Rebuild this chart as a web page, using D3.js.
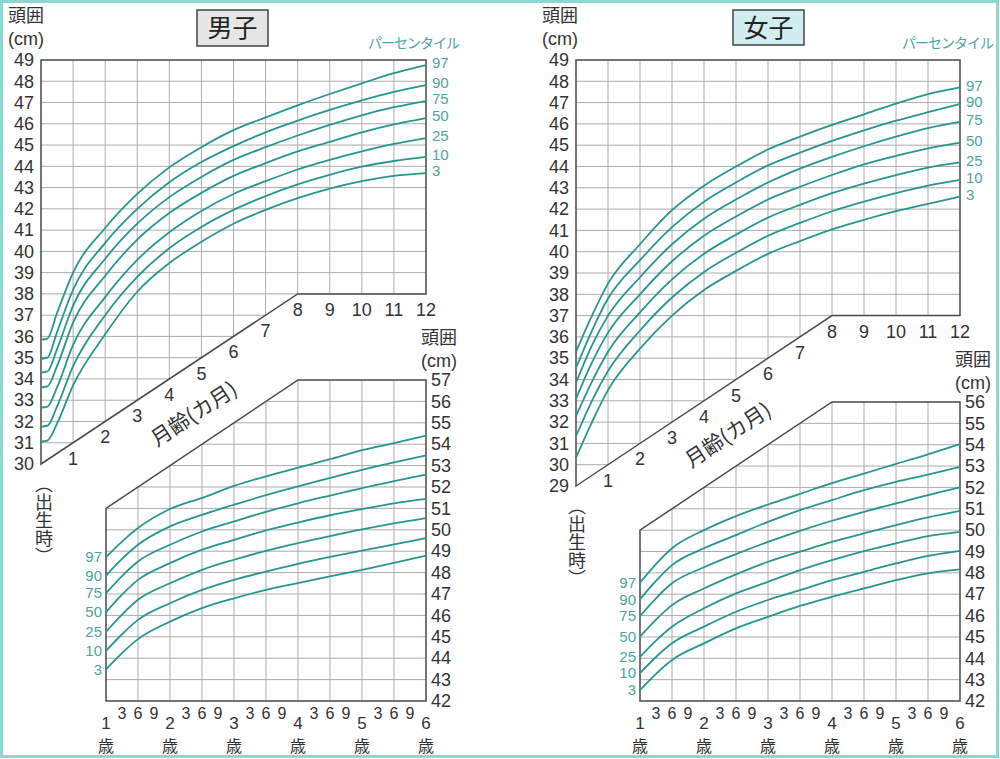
<!DOCTYPE html>
<html>
<head>
<meta charset="utf-8">
<script src="https://cdn.jsdelivr.net/npm/d3@7"></script>
<style>
  body { margin: 0; background: #fff; }
  svg { display: block; }
</style>
</head>
<body>
<svg id="chart" width="1000" height="759"></svg>
<script>
// パーセンタイル (上から順)
const pctLabels = ["97", "90", "75", "50", "25", "10", "3"];

// 男子 乳児 (月齢 0-12カ月, 頭囲 cm)
const boyMonths = [0, 0.2, 0.5, 1, 2, 3, 4, 5, 6, 7, 8, 9, 10, 11, 12];
const boyInfant = [
  [35.85, 35.9, 37.1, 39.0, 41.1, 42.7, 43.95, 44.9, 45.7, 46.3, 46.87, 47.4, 47.9, 48.38, 48.76],
  [34.95, 35.0, 36.2, 38.2, 40.4, 42.0, 43.25, 44.2, 44.95, 45.6, 46.15, 46.65, 47.1, 47.5, 47.82],
  [34.3, 34.35, 35.4, 37.45, 39.65, 41.3, 42.55, 43.5, 44.3, 44.9, 45.45, 45.95, 46.4, 46.78, 47.07],
  [33.6, 33.65, 34.6, 36.65, 38.85, 40.55, 41.8, 42.75, 43.55, 44.15, 44.7, 45.15, 45.6, 45.97, 46.27],
  [32.65, 32.7, 33.6, 35.6, 37.85, 39.6, 40.9, 41.9, 42.7, 43.3, 43.85, 44.3, 44.7, 45.05, 45.33],
  [31.75, 31.8, 32.7, 34.6, 37.0, 38.8, 40.15, 41.15, 41.95, 42.6, 43.15, 43.6, 43.98, 44.25, 44.44],
  [31.05, 31.1, 31.9, 33.7, 36.1, 38.1, 39.45, 40.45, 41.3, 41.95, 42.5, 42.95, 43.3, 43.55, 43.68]
];

// 女子 乳児
const girlMonths = [0, 0.5, 1, 2, 3, 4, 5, 6, 7, 8, 9, 10, 11, 12];
const girlInfant = [
  [35.3, 37.0, 38.5, 40.35, 41.95, 43.1, 44.0, 44.8, 45.4, 45.95, 46.45, 46.95, 47.4, 47.72],
  [34.54, 36.3, 37.8, 39.6, 41.15, 42.35, 43.25, 44.05, 44.65, 45.2, 45.7, 46.15, 46.55, 46.94],
  [33.84, 35.6, 37.0, 38.8, 40.35, 41.55, 42.45, 43.25, 43.9, 44.45, 44.95, 45.4, 45.8, 46.09],
  [33.09, 34.8, 36.2, 38.0, 39.55, 40.75, 41.65, 42.45, 43.05, 43.6, 44.1, 44.5, 44.85, 45.12],
  [32.28, 33.9, 35.3, 37.15, 38.7, 39.9, 40.8, 41.6, 42.2, 42.75, 43.2, 43.6, 43.95, 44.19],
  [31.34, 33.0, 34.4, 36.3, 37.85, 39.05, 39.95, 40.75, 41.35, 41.9, 42.35, 42.75, 43.1, 43.37],
  [30.33, 32.0, 33.5, 35.45, 37.0, 38.2, 39.1, 39.9, 40.5, 41.05, 41.5, 41.9, 42.25, 42.59]
];

// 幼児 (1-6歳)
const childYears = [1, 1.25, 1.5, 2, 2.5, 3, 3.5, 4, 4.5, 5, 5.5, 6];
const boyChild = [
  [48.72, 49.45, 50.08, 50.97, 51.49, 52.05, 52.5, 52.9, 53.3, 53.72, 54.05, 54.4],
  [47.86, 48.64, 49.3, 50.16, 50.7, 51.17, 51.62, 52.03, 52.42, 52.8, 53.15, 53.48],
  [47.04, 47.84, 48.52, 49.3, 49.92, 50.39, 50.84, 51.24, 51.6, 51.95, 52.27, 52.58],
  [46.15, 46.97, 47.66, 48.44, 49.07, 49.53, 49.97, 50.34, 50.68, 50.97, 51.24, 51.45],
  [45.24, 46.04, 46.73, 47.5, 48.13, 48.6, 49.02, 49.38, 49.71, 50.02, 50.3, 50.55],
  [44.34, 45.12, 45.79, 46.57, 47.19, 47.66, 48.05, 48.41, 48.73, 49.03, 49.32, 49.61],
  [43.48, 44.24, 44.89, 45.71, 46.34, 46.8, 47.19, 47.51, 47.82, 48.13, 48.45, 48.79]
];
const girlChild = [
  [47.54, 48.41, 49.15, 50.0, 50.66, 51.2, 51.7, 52.2, 52.65, 53.1, 53.55, 54.03],
  [46.76, 47.62, 48.36, 49.15, 49.77, 50.39, 50.94, 51.41, 51.87, 52.26, 52.6, 52.96],
  [45.98, 46.81, 47.51, 48.26, 48.88, 49.45, 49.97, 50.44, 50.86, 51.25, 51.64, 52.0],
  [45.01, 45.81, 46.49, 47.27, 47.93, 48.52, 48.99, 49.45, 49.85, 50.24, 50.6, 50.9],
  [44.07, 44.83, 45.48, 46.34, 47.04, 47.58, 48.13, 48.6, 49.02, 49.38, 49.72, 49.92],
  [43.3, 44.06, 44.7, 45.48, 46.18, 46.73, 47.19, 47.66, 48.05, 48.44, 48.79, 49.03],
  [42.51, 43.27, 43.92, 44.7, 45.4, 45.94, 46.45, 46.88, 47.27, 47.66, 47.98, 48.16]
];

const quarterLabels = ["3", "6", "9"];

const gridColor = "#acacac";
const frameColor = "#4a4a4a";
const curveColor = "#27968f";
const pctColor = "#4aa6a0";
const textColor = "#333";
const numFont = "'Liberation Sans', Arial, sans-serif";
const jpFont = "'Noto Sans CJK JP', sans-serif";

const svg = d3.select("#chart");

// 外枠
svg.append("rect")
  .attr("x", 1.5).attr("y", 1.5)
  .attr("width", 996).attr("height", 755)
  .attr("fill", "#fff")
  .attr("stroke", "#8ad8d0")
  .attr("stroke-width", 3);

function drawGrid(id, xs, ys, outline, xTicks, yTicks) {
  const pts = outline.map(p => [xs(p[0]), ys(p[1])].join(",")).join(" ");
  svg.append("clipPath").attr("id", id).append("polygon").attr("points", pts);
  const g = svg.append("g").attr("clip-path", `url(#${id})`);
  g.selectAll("line.v").data(xTicks).join("line").attr("class", "v")
    .attr("x1", d => xs(d)).attr("x2", d => xs(d))
    .attr("y1", ys.range()[0]).attr("y2", ys.range()[1])
    .attr("stroke", gridColor).attr("stroke-width", 1);
  g.selectAll("line.h").data(yTicks).join("line").attr("class", "h")
    .attr("x1", xs.range()[0]).attr("x2", xs.range()[1])
    .attr("y1", d => ys(d)).attr("y2", d => ys(d))
    .attr("stroke", gridColor).attr("stroke-width", 1);
  svg.append("polygon").attr("points", pts)
    .attr("fill", "none").attr("stroke", frameColor).attr("stroke-width", 1.5);
}

function drawCurves(xs, ys, xsData, rows, curve) {
  const line = d3.line()
    .x(d => xs(d[0]))
    .y(d => ys(d[1]))
    .curve(curve);
  rows.forEach(row => {
    svg.append("path")
      .attr("d", line(xsData.map((x, i) => [x, row[i]])))
      .attr("fill", "none")
      .attr("stroke", curveColor)
      .attr("stroke-width", 1.8);
  });
}

function styleAxis(a, size) {
  a.select(".domain").remove();
  a.attr("font-family", numFont).attr("font-size", size).attr("color", textColor);
}

function jpText(x, y, str, size, anchor, fill) {
  return svg.append("text")
    .attr("x", x).attr("y", y)
    .attr("font-family", jpFont)
    .attr("font-size", size)
    .attr("text-anchor", anchor || "start")
    .attr("fill", fill || textColor)
    .text(str);
}

function drawSide(cfg) {
  // ---- 乳児 (上) ----
  const xi = d3.scaleLinear().domain([0, 12]).range(cfg.infantX);
  const yi = d3.scaleLinear().domain([cfg.infantMin, 49]).range(cfg.infantY);
  const lo = cfg.infantMin;
  drawGrid(cfg.id + "i", xi, yi,
    [[0, lo], [8, lo + 8], [12, lo + 8], [12, 49], [0, 49]],
    d3.range(1, 12), d3.range(lo + 1, 49));
  drawCurves(xi, yi, cfg.months, cfg.infant, d3.curveMonotoneX);

  svg.append("g").attr("transform", `translate(${xi(0)},0)`)
    .call(d3.axisLeft(yi).tickValues(d3.range(lo, 50)).tickSize(0).tickPadding(7))
    .call(a => styleAxis(a, 18));

  // 月齢の目盛
  d3.range(1, 13).forEach(m => {
    svg.append("text")
      .attr("x", xi(m)).attr("y", yi(lo + Math.min(m, 8)) + 22)
      .attr("text-anchor", "middle")
      .attr("font-family", numFont).attr("font-size", 18)
      .attr("fill", textColor)
      .text(m);
  });

  // 月齢(カ月)
  const ang = Math.atan2(yi(lo) - yi(lo + 1), xi(1) - xi(0)) * 180 / Math.PI;
  jpText(0, 0, "月齢(カ月)", 21, "middle")
    .attr("transform", `translate(${cfg.ageLabel[0]},${cfg.ageLabel[1]}) rotate(${-ang})`);

  // 右端パーセンタイル
  cfg.infant.forEach((row, i) => {
    svg.append("text")
      .attr("x", xi(12) + 6).attr("y", yi(row[row.length - 1]) - 2)
      .attr("dy", "0.35em")
      .attr("font-family", numFont).attr("font-size", 15)
      .attr("fill", pctColor)
      .text(pctLabels[i]);
  });
  jpText(xi(12) - 58, 48, "パーセンタイル", 14, "start", pctColor)
    .attr("letter-spacing", -1);

  // ---- 幼児 (下) ----
  const xc = d3.scaleLinear().domain([1, 6]).range(cfg.childX);
  const yc = d3.scaleLinear().domain([42, cfg.childMax]).range(cfg.childY);
  const top = cfg.childMax;
  drawGrid(cfg.id + "c", xc, yc,
    [[1, 42], [6, 42], [6, top], [4, top], [1, top - 6]],
    d3.range(1.5, 6, 0.5), d3.range(43, top));
  drawCurves(xc, yc, childYears, cfg.child, d3.curveMonotoneX);

  svg.append("g").attr("transform", `translate(${xc(6)},0)`)
    .call(d3.axisRight(yc).tickValues(d3.range(42, top + 1)).tickSize(0).tickPadding(5))
    .call(a => styleAxis(a, 18));

  cfg.child.forEach((row, i) => {
    svg.append("text")
      .attr("x", xc(1) - 4).attr("y", yc(row[0]))
      .attr("dy", "0.35em")
      .attr("text-anchor", "end")
      .attr("font-family", numFont).attr("font-size", 15)
      .attr("fill", pctColor)
      .text(pctLabels[i]);
  });

  // 年齢の目盛
  d3.range(1, 7).forEach(yr => {
    svg.append("text")
      .attr("x", xc(yr)).attr("y", 729)
      .attr("text-anchor", "middle")
      .attr("font-family", numFont).attr("font-size", 17)
      .attr("fill", textColor)
      .text(yr);
    jpText(xc(yr), 752, "歳", 16, "middle");
    if (yr < 6) {
      quarterLabels.forEach((q, k) => {
        svg.append("text")
          .attr("x", xc(yr + (k + 1) / 4)).attr("y", 719)
          .attr("text-anchor", "middle")
          .attr("font-family", numFont).attr("font-size", 16)
          .attr("fill", textColor)
          .text(q);
      });
    }
  });

  // 軸タイトル
  jpText(cfg.unitTop[0], 22, "頭囲", 18);
  svg.append("text").attr("x", cfg.unitTop[0]).attr("y", 45)
    .attr("font-family", numFont).attr("font-size", 18).attr("fill", textColor)
    .text("(cm)");
  jpText(cfg.unitRight[0], cfg.unitRight[1] - 1, "頭囲", 18);
  svg.append("text").attr("x", cfg.unitRight[0]).attr("y", cfg.unitRight[1] + 22)
    .attr("font-family", numFont).attr("font-size", 18).attr("fill", textColor)
    .text("(cm)");

  // (出生時)
  jpText(cfg.birth[0], cfg.birth[1], "（出生時）", 18)
    .style("writing-mode", "vertical-rl");

  // タイトル
  const b = cfg.titleBox;
  svg.append("rect")
    .attr("x", b[0]).attr("y", b[1]).attr("width", b[2]).attr("height", b[3])
    .attr("fill", cfg.titleFill).attr("stroke", "#444").attr("stroke-width", 1.5);
  jpText(b[0] + b[2] / 2, b[1] + b[3] / 2 + 9, cfg.title, 25, "middle", "#222");
}

drawSide({
  id: "boy", title: "男子", titleFill: "#e6e6e6", titleBox: [197, 10, 71, 36],
  months: boyMonths, infant: boyInfant, child: boyChild,
  infantX: [41, 426], infantY: [464, 60], infantMin: 30,
  childX: [106, 426], childY: [701, 380], childMax: 57,
  ageLabel: [198, 420], unitTop: [8], unitRight: [421, 345], birth: [44, 475]
});

drawSide({
  id: "girl", title: "女子", titleFill: "#d2edf0", titleBox: [733, 10, 71, 35],
  months: girlMonths, infant: girlInfant, child: girlChild,
  infantX: [576, 960], infantY: [486, 60], infantMin: 29,
  childX: [640, 960], childY: [701, 402], childMax: 56,
  ageLabel: [732, 441], unitTop: [542], unitRight: [955, 367], birth: [577, 497]
});
</script>
</body>
</html>
